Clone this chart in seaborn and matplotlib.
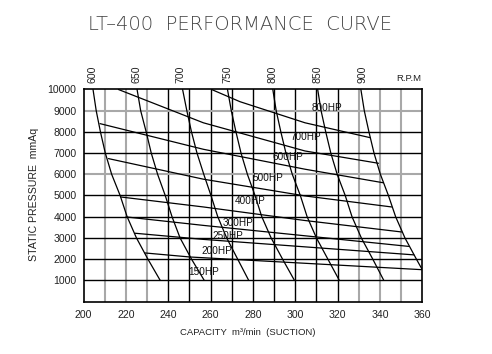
import matplotlib
matplotlib.use("Agg")
import matplotlib.pyplot as plt
import pandas as pd
import seaborn as sns

sns.set_theme(style="white")
plt.rcParams["font.family"] = ["Liberation Sans", "DejaVu Sans"]

# ---------------- data ----------------
title = "LT\u2013400  PERFORMANCE  CURVE"
rpm_names = ["600", "650", "700", "750", "800", "850", "900"]
pressure = [10000, 9000, 8000, 7000, 6000, 5000, 4000, 3000, 2000, 1000]
rpm_600 = [204.5, 206.0, 208.0, 210.3, 213.3, 217.3, 220.6, 225.0, 230.4, 236.2]
rpm_650 = [225.3, 227.0, 229.6, 232.0, 235.0, 238.6, 241.8, 245.6, 251.0, 257.0]
rpm_700 = [246.8, 248.8, 251.0, 253.6, 256.8, 260.2, 263.4, 267.6, 272.8, 278.0]
rpm_750 = [268.0, 269.8, 272.0, 274.4, 277.4, 281.0, 284.2, 288.6, 294.0, 299.6]
rpm_800 = [289.4, 291.0, 293.2, 295.6, 298.6, 302.4, 305.6, 310.0, 315.4, 320.8]
rpm_850 = [310.6, 312.2, 314.4, 316.8, 319.8, 323.6, 326.8, 331.2, 336.6, 341.8]
pressure_900 = [10000, 9000, 8000, 7000, 6000, 5000, 4000, 3000, 2000, 1500]
rpm_900 = [331.0, 332.6, 334.8, 337.2, 340.2, 344.0, 347.4, 351.8, 357.2, 360.0]

hp_names = ["800HP", "700HP", "600HP", "500HP", "400HP", "300HP", "250HP", "200HP", "150HP"]
hp800_q = [260.5, 273.9, 304.6, 335.3]
hp800_p = [10000, 9425, 8430, 7730]
hp700_q = [216.5, 256.6, 304.6, 339.3]
hp700_p = [10000, 8430, 7100, 6520]
hp600_q = [207.8, 256.6, 304.6, 341.6]
hp600_p = [8390, 7180, 6240, 5600]
hp500_q = [211.8, 256.6, 304.6, 345.5]
hp500_p = [6740, 5770, 4980, 4460]
hp400_q = [217.6, 256.6, 304.6, 350.2]
hp400_p = [4930, 4460, 3820, 3280]
hp300_q = [220.1, 256.6, 353.5]
hp300_p = [3990, 3590, 2600]
hp250_q = [224.3, 256.6, 356.0]
hp250_p = [3220, 2930, 2200]
hp200_q = [229.0, 250.2, 360.0]
hp200_p = [2290, 2100, 1500]

# label anchor positions (data units)
hp_label_q = [315.2, 305.2, 296.5, 287.1, 278.9, 273.1, 268.4, 263.2, 256.8]
hp_label_p = [9142, 7769, 6825, 5840, 4717, 3712, 3104, 2392, 1401]
rpm_label_q = [204.3, 224.8, 246.0, 267.8, 289.4, 310.5, 331.7]

x_ticks = list(range(200, 361, 20))
y_ticks = list(range(1000, 10001, 1000))
grey_v = [210, 220, 230, 330, 340, 350]
black_v = [240, 250, 260, 270, 280, 290, 300, 310, 320]
grey_h = [6000, 9000]
black_h = [1000, 2000, 3000, 4000, 5000, 7000, 8000]

# ---------------- tables ----------------
rpm_x = [rpm_600, rpm_650, rpm_700, rpm_750, rpm_800, rpm_850, rpm_900]
rpm_y = [pressure] * 6 + [pressure_900]
rows = []
for name, xs, ys in zip(rpm_names, rpm_x, rpm_y):
    for q, p in zip(xs, ys):
        rows.append({"q": q, "p": p, "curve": name})
rpm_df = pd.DataFrame(rows)

hp_x = [hp800_q, hp700_q, hp600_q, hp500_q, hp400_q, hp300_q, hp250_q, hp200_q]
hp_y = [hp800_p, hp700_p, hp600_p, hp500_p, hp400_p, hp300_p, hp250_p, hp200_p]
rows = []
for name, xs, ys in zip(hp_names, hp_x, hp_y):
    for q, p in zip(xs, ys):
        rows.append({"q": q, "p": p, "curve": name})
hp_df = pd.DataFrame(rows)

# ---------------- figure ----------------
fig = plt.figure(figsize=(4.92, 3.54), dpi=100)
ax = fig.add_axes([83.5 / 492, 1 - 301.5 / 354, (422.3 - 83.5) / 492, (301.5 - 89.5) / 354])
ax.set_xlim(200, 360)
ax.set_ylim(0, 10000)

for v in grey_v:
    ax.axvline(v, color="#a8a8a8", lw=1.5, zorder=1)
for v in black_v:
    ax.axvline(v, color="black", lw=1.0, zorder=1)
for h in grey_h:
    ax.axhline(h, color="#a8a8a8", lw=1.5, zorder=1)
for h in black_h:
    ax.axhline(h, color="black", lw=1.0, zorder=1)

sns.lineplot(data=rpm_df, x="q", y="p", units="curve", estimator=None, sort=False,
             color="black", lw=0.9, ax=ax, zorder=3, legend=False)
sns.lineplot(data=hp_df, x="q", y="p", units="curve", estimator=None, sort=False,
             color="black", lw=0.9, ax=ax, zorder=3, legend=False)

for s in ax.spines.values():
    s.set_color("black")
    s.set_linewidth(1.2)
    s.set_visible(True)

ax.set_xticks(x_ticks)
ax.set_yticks(y_ticks)
ax.set_xticklabels([str(t) for t in x_ticks])
ax.set_yticklabels([str(t) for t in y_ticks])
ax.tick_params(axis="both", length=0, labelsize=7.6, colors="#222222")
ax.tick_params(axis="x", pad=6)
ax.tick_params(axis="y", pad=5)
ax.set_xlabel("CAPACITY  m\u00b3/min  (SUCTION)", fontsize=6.8, color="#222222")
ax.xaxis.set_label_coords((248 - 83.5) / 338.8, -(327.7 - 301.5) / 212)
ax.set_ylabel("STATIC PRESSURE  mmAq", fontsize=7.6, color="#222222")
ax.yaxis.set_label_coords(-(83.5 - 39) / 338.8, (301.5 - 194) / 212)

for name, q, p in zip(hp_names, hp_label_q, hp_label_p):
    ax.text(q, p, name, fontsize=7.2, ha="center", va="center", color="#111111", zorder=4)

for name, q in zip(rpm_names, rpm_label_q):
    ax.text(q, 1.0 + 15.5 / 212, name, transform=ax.get_xaxis_transform(), rotation=90,
            fontsize=7.6, ha="center", va="center", color="#222222")
ax.text(353.7, 1.0 + 11 / 212, "R.P.M", transform=ax.get_xaxis_transform(),
        fontsize=6.8, ha="center", va="center", color="#222222")

fig.text(239.5 / 492, 1 - 24 / 354, title, fontsize=14, ha="center", va="center",
         color="#444444", family=["DejaVu Sans"], fontweight="light")

fig.savefig("out.png", dpi=100)
